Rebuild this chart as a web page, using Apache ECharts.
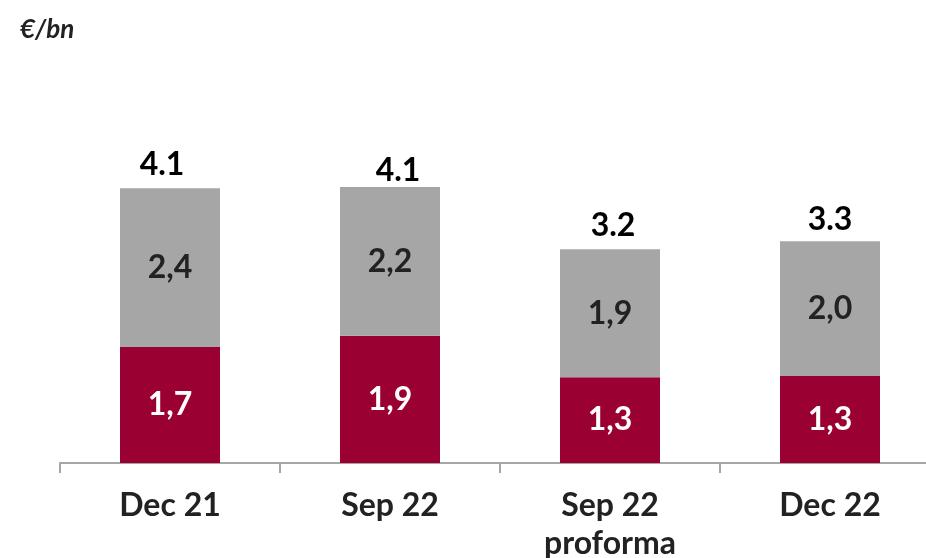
<!DOCTYPE html>
<html>
<head>
<meta charset="utf-8">
<script src="https://cdn.jsdelivr.net/npm/echarts@6/dist/echarts.min.js"></script>
<style>
  html, body { margin: 0; padding: 0; background: #fff; }
  #chart { width: 926px; height: 558px; }
</style>
</head>
<body>
<div id="chart"></div>
<script>
// 数据
const categories = ['Dec 21', 'Sep 22', 'Sep 22\nproforma', 'Dec 22'];
const redValues = [1.73, 1.90, 1.28, 1.30];
const greyValues = [2.37, 2.22, 1.91, 2.01];
const totalLabels = ['4.1', '4.1', '3.2', '3.3'];
// small nudge [x, y] for the total labels (as in the source slide)
const totalNudge = [[-8, 0], [8, 8], [3, 0], [0, 2]];

const chart = echarts.init(document.getElementById('chart'));

const fmt = p => p.value.toFixed(1).replace('.', ',');

const option = {
  animation: false,
  title: {
    text: '€/bn',
    left: 15,
    top: 12,
    textStyle: {
      fontFamily: 'Lato',
      fontSize: 26,
      fontWeight: 'bold',
      fontStyle: 'italic',
      color: '#222'
    }
  },
  grid: {
    left: 60,
    top: 61,
    width: 880,
    height: 402,
    outerBoundsMode: 'none',
    containLabel: false
  },
  xAxis: {
    type: 'category',
    data: categories,
    axisLine: { lineStyle: { color: '#a6a6a6', width: 2 } },
    axisTick: { show: true, alignWithLabel: false, length: 10, lineStyle: { color: '#a6a6a6', width: 2 } },
    axisLabel: {
      margin: 24,
      fontFamily: 'Lato',
      fontSize: 32,
      fontWeight: 'bold',
      color: '#222',
      lineHeight: 38
    }
  },
  yAxis: {
    type: 'value',
    min: 0,
    max: 6,
    show: false,
    splitLine: { show: false }
  },
  series: [
    {
      name: 'red',
      type: 'bar',
      stack: 'total',
      barWidth: 100,
      data: redValues,
      itemStyle: { color: '#9a0032' },
      label: {
        show: true,
        position: 'inside',
        formatter: fmt,
        fontFamily: 'Lato',
        fontSize: 32,
        fontWeight: 'bold',
        color: '#fff'
      }
    },
    {
      name: 'grey',
      type: 'bar',
      stack: 'total',
      barWidth: 100,
      data: greyValues,
      itemStyle: { color: '#a6a6a6' },
      label: {
        show: true,
        position: 'inside',
        formatter: fmt,
        fontFamily: 'Lato',
        fontSize: 32,
        fontWeight: 'bold',
        color: '#222'
      }
    },
    {
      // 顶部合计标签
      name: 'total',
      type: 'bar',
      stack: 'total',
      barWidth: 100,
      data: greyValues.map((v, i) => ({
        value: 0,
        label: { offset: totalNudge[i] }
      })),
      itemStyle: { color: 'transparent' },
      label: {
        show: true,
        position: 'top',
        distance: 8,
        formatter: p => totalLabels[p.dataIndex],
        fontFamily: 'Lato',
        fontSize: 32,
        fontWeight: 'bold',
        color: '#000'
      }
    }
  ]
};

chart.setOption(option, true);
</script>
</body>
</html>
